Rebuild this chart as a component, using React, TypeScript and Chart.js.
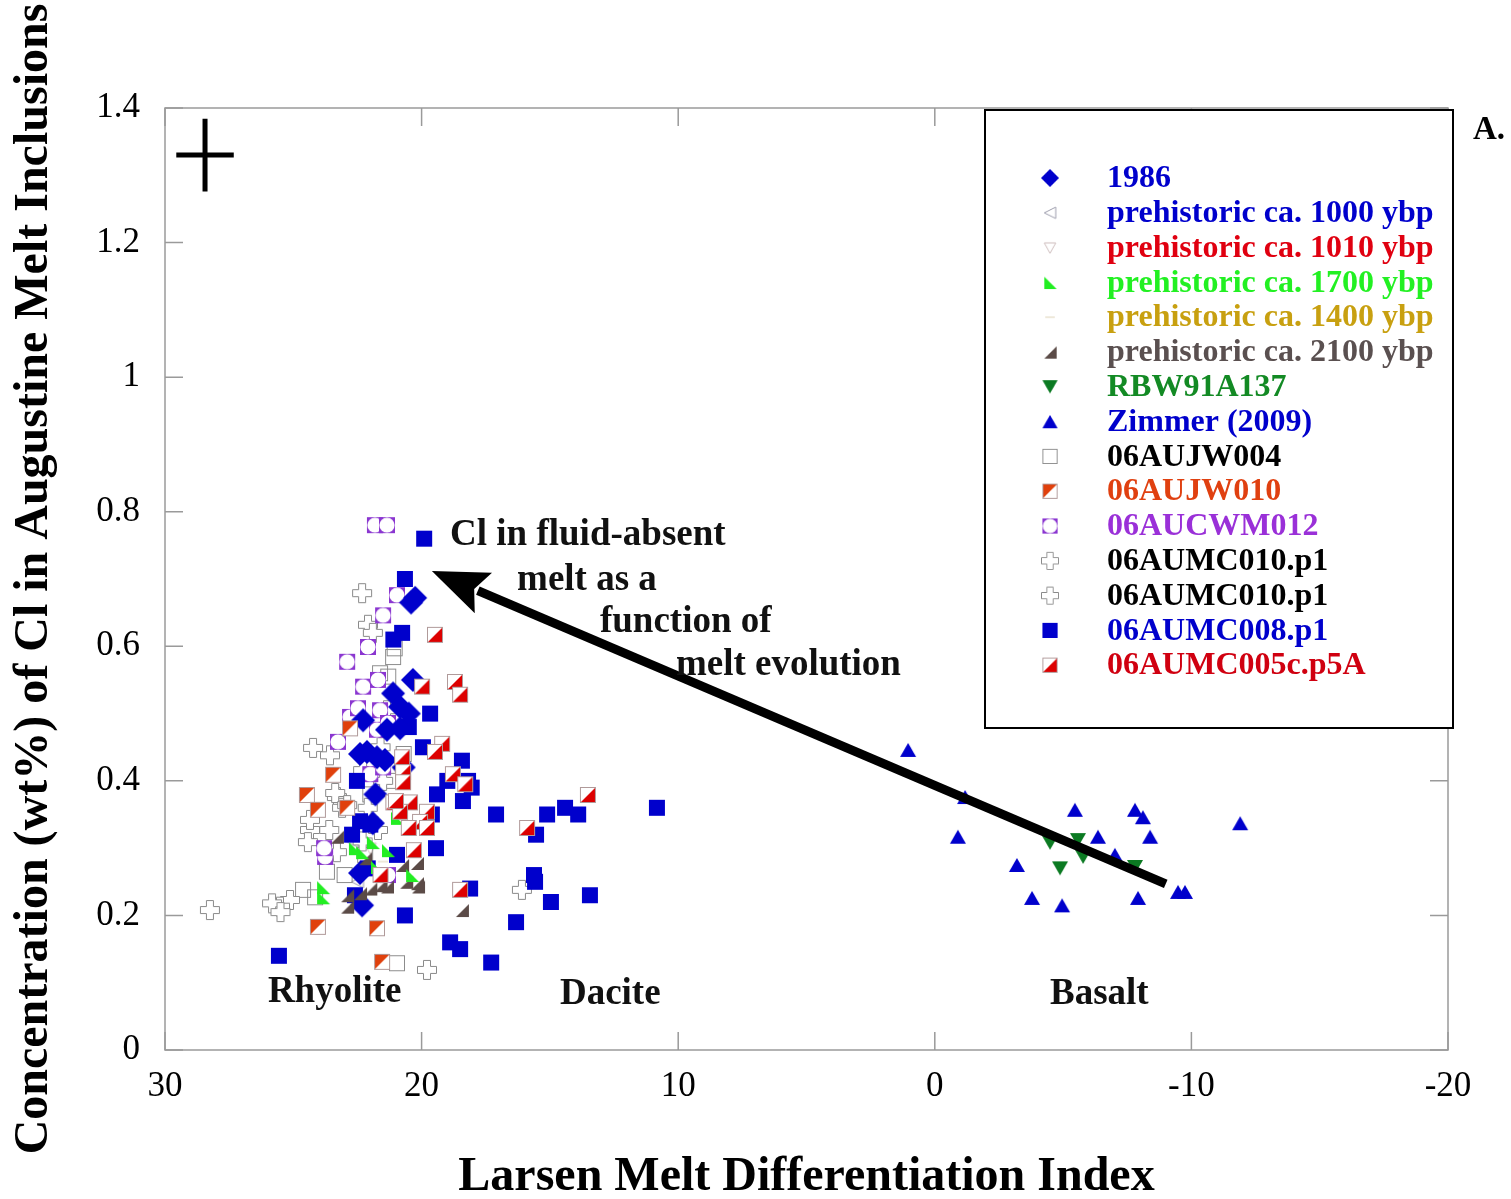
import React, { useEffect, useRef } from 'react';
import { Chart, registerables } from 'chart.js';

Chart.register(...registerables);

type Pt = [number, number];

// ---------------- axis ticks ----------------
const xTickValues = [30, 20, 10, 0, -10, -20];
const yTickValues = [0, 0.2, 0.4, 0.6, 0.8, 1, 1.2, 1.4];

// ---------------- series data (Larsen index, Cl wt%) ----------------
const d1986: Pt[] = [
  [20.41, 0.665], [20.25, 0.672], [20.34, 0.55], [21.11, 0.53], [20.84, 0.51], [22.28, 0.49],
  [21.35, 0.476], [20.84, 0.478], [22.13, 0.443], [21.74, 0.435], [21.43, 0.431], [22.4, 0.44],
  [21.9, 0.337], [22.4, 0.263], [22.32, 0.215], [20.7, 0.42], [20.5, 0.5], [21.8, 0.38],
];
const d1000: Pt[] = [[22.5, 0.25], [21.7, 0.385], [22.7, 0.31]];
const d1010: Pt[] = [[22.0, 0.3], [21.0, 0.42]];
const d1700: Pt[] = [
  [20.96, 0.345], [21.9, 0.309], [22.32, 0.294], [21.31, 0.297], [21.74, 0.272], [20.37, 0.26],
  [23.84, 0.242], [23.84, 0.227], [22.6, 0.3],
];
const d1400: Pt[] = [[22.0, 0.35], [21.5, 0.28]];
const d2100: Pt[] = [
  [22.9, 0.23], [22.9, 0.213], [21.35, 0.243], [20.14, 0.243], [20.76, 0.275], [22.4, 0.233],
  [23.3, 0.317], [22.0, 0.24], [20.6, 0.25], [21.6, 0.245], [20.18, 0.278], [20.18, 0.248],
  [18.43, 0.208], [22.2, 0.285],
];
const dRBW: Pt[] = [[-4.49, 0.308], [-5.58, 0.312], [-5.78, 0.287], [-4.88, 0.27], [-7.8, 0.272]];
const dZimmer: Pt[] = [
  [1.04, 0.446], [-1.18, 0.376], [-0.9, 0.317], [-3.2, 0.275], [-3.79, 0.226], [-4.96, 0.215],
  [-5.46, 0.357], [-6.36, 0.317], [-7.02, 0.29], [-7.8, 0.357], [-8.11, 0.346], [-8.39, 0.317],
  [-7.92, 0.226], [-9.48, 0.235], [-9.75, 0.235], [-11.9, 0.337],
];
const dJW004: Pt[] = [
  [21.11, 0.584], [21.05, 0.597], [21.62, 0.56], [21.3, 0.555], [24.62, 0.238], [24.15, 0.227],
  [20.96, 0.129], [23.69, 0.265], [23.0, 0.26], [22.2, 0.29], [22.0, 0.38], [21.3, 0.4], [20.7, 0.44],
];
const dJW010: Pt[] = [
  [22.79, 0.478], [23.45, 0.409], [24.47, 0.379], [24.04, 0.357], [24.04, 0.183], [21.74, 0.181],
  [21.54, 0.131], [22.9, 0.36],
];
const dCWM012: Pt[] = [
  [21.82, 0.78], [21.35, 0.78], [20.96, 0.676], [21.5, 0.646], [22.09, 0.599], [22.9, 0.577],
  [22.28, 0.54], [21.7, 0.55], [22.79, 0.495], [22.48, 0.508], [21.74, 0.476], [23.26, 0.458],
  [21.62, 0.505], [21.31, 0.486], [23.76, 0.287], [21.31, 0.26], [23.8, 0.3], [22.0, 0.41], [21.5, 0.42],
];
const dMC010a: Pt[] = [
  [22.32, 0.679], [22.09, 0.632], [21.9, 0.62], [21.35, 0.505], [24.23, 0.449], [23.57, 0.438],
  [22.28, 0.416], [23.37, 0.382], [22.9, 0.364], [22.1, 0.36], [24.35, 0.342], [21.6, 0.45], [21.5, 0.4],
];
const dMC010b: Pt[] = [
  [23.3, 0.376], [23.1, 0.36], [24.35, 0.327], [23.6, 0.327], [24.43, 0.309], [23.3, 0.294],
  [25.13, 0.223], [25.52, 0.213], [25.83, 0.218], [25.5, 0.205], [28.25, 0.208], [19.79, 0.119],
  [16.09, 0.238], [21.7, 0.327], [22.3, 0.31],
];
const dMC008: Pt[] = [
  [19.9, 0.76], [20.65, 0.7], [20.76, 0.62], [21.1, 0.61], [19.67, 0.5], [19.95, 0.45], [18.43, 0.43],
  [18.19, 0.4], [19.0, 0.4], [18.39, 0.37], [19.4, 0.38], [18.05, 0.39], [22.52, 0.4], [22.4, 0.34],
  [22.0, 0.335], [22.71, 0.32], [20.96, 0.29], [22.1, 0.27], [19.44, 0.3], [20.65, 0.2], [18.11, 0.24],
  [17.1, 0.35], [15.11, 0.35], [14.41, 0.36], [13.9, 0.35], [15.54, 0.32], [10.83, 0.36], [15.62, 0.26],
  [15.58, 0.25], [14.96, 0.22], [13.44, 0.23], [16.32, 0.19], [18.89, 0.16], [18.5, 0.15], [17.29, 0.13],
  [25.56, 0.14], [22.6, 0.23], [19.6, 0.35], [20.5, 0.48],
];
const dMC005: Pt[] = [
  [19.48, 0.617], [18.7, 0.547], [18.5, 0.528], [19.98, 0.54], [19.2, 0.455], [19.48, 0.443],
  [20.76, 0.435], [20.72, 0.413], [20.72, 0.398], [18.78, 0.41], [21.1, 0.368], [20.45, 0.368],
  [19.79, 0.354], [20.06, 0.339], [20.84, 0.354], [20.3, 0.297], [19.79, 0.33], [18.5, 0.238],
  [13.52, 0.379], [15.89, 0.33], [21.6, 0.26], [21.0, 0.37], [20.5, 0.33], [18.3, 0.395],
];

const seriesNames = [
  '1986', 'prehistoric ca. 1000 ybp', 'prehistoric ca. 1010 ybp', 'prehistoric ca. 1700 ybp',
  'prehistoric ca. 1400 ybp', 'prehistoric ca. 2100 ybp', 'RBW91A137', 'Zimmer (2009)', '06AUJW004',
  '06AUJW010', '06AUCWM012', '06AUMC010.p1', '06AUMC010.p1', '06AUMC008.p1', '06AUMC005c.p5A',
];
const seriesData: Pt[][] = [
  d1986, d1000, d1010, d1700, d1400, d2100, dRBW, dZimmer, dJW004, dJW010, dCWM012, dMC010a, dMC010b, dMC008, dMC005,
];
const seriesTextColors = [
  '#0000cc', '#0000cc', '#e00010', '#22f022', '#c8a010', '#5a5050', '#138a24', '#0000cc', '#000000',
  '#e04010', '#9a30d8', '#000000', '#000000', '#0000cc', '#d00010',
];
const seriesMarkers = [
  'diamond', 'triLeftOpen', 'triDownOpen', 'green1700', 'faint', 'brown2100', 'triDown', 'triUp',
  'openSquare', 'halfTL', 'purpleRing', 'cross', 'cross', 'square', 'halfBR',
];
// draw order: lower = on top
const seriesOrder = [6, 12, 12, 3, 13, 4, 2, 2, 11, 5, 8, 10, 10, 7, 1];

// annotation texts (data coordinates)
const annoTexts = [
  { t: 'Cl in fluid-absent', x: 18.89, y: 0.764 },
  { t: 'melt as a', x: 16.28, y: 0.698 },
  { t: 'function of', x: 13.05, y: 0.636 },
  { t: 'melt evolution', x: 10.09, y: 0.572 },
  { t: 'Rhyolite', x: 25.99, y: 0.086 },
  { t: 'Dacite', x: 14.61, y: 0.082 },
  { t: 'Basalt', x: -4.49, y: 0.082 },
];
const arrowFrom = { x: -9.0, y: 0.247 };
const arrowTo = { x: 19.6, y: 0.712 };
const errCross = { x: 28.44, y: 1.33, dx: 1.12, dy: 0.054 };

const SERIF = '"Liberation Serif", "Times New Roman", serif';

function poly(ctx: CanvasRenderingContext2D, pts: number[][]) {
  ctx.beginPath();
  ctx.moveTo(pts[0][0], pts[0][1]);
  for (let i = 1; i < pts.length; i++) ctx.lineTo(pts[i][0], pts[i][1]);
  ctx.closePath();
}

function makeMarker(kind: string): HTMLCanvasElement {
  const size = kind === 'diamond' ? 26 : kind === 'cross' ? 22 : 18;
  const c = document.createElement('canvas');
  c.width = size;
  c.height = size;
  const ctx = c.getContext('2d')!;
  ctx.lineWidth = 1;
  switch (kind) {
    case 'diamond':
      poly(ctx, [[13, 1], [25, 13], [13, 25], [1, 13]]);
      ctx.fillStyle = '#0000cc';
      ctx.fill();
      break;
    case 'square':
      ctx.fillStyle = '#0000cc';
      ctx.fillRect(1, 1, 16, 16);
      break;
    case 'triUp':
      poly(ctx, [[9, 2], [17, 16], [1, 16]]);
      ctx.fillStyle = '#0000cc';
      ctx.fill();
      break;
    case 'triDown':
      poly(ctx, [[1, 2], [17, 2], [9, 16]]);
      ctx.fillStyle = '#0b7a22';
      ctx.fill();
      break;
    case 'triLeftOpen':
      poly(ctx, [[3, 9], [15, 3], [15, 15]]);
      ctx.fillStyle = '#ffffff';
      ctx.fill();
      ctx.strokeStyle = '#9a9aaa';
      ctx.stroke();
      break;
    case 'triDownOpen':
      poly(ctx, [[3, 4], [15, 4], [9, 15]]);
      ctx.fillStyle = '#ffffff';
      ctx.fill();
      ctx.strokeStyle = '#cdbcbc';
      ctx.stroke();
      break;
    case 'green1700':
      poly(ctx, [[3, 3], [3, 16], [16, 16]]);
      ctx.fillStyle = '#22ee22';
      ctx.fill();
      break;
    case 'brown2100':
      poly(ctx, [[16, 3], [16, 16], [3, 16]]);
      ctx.fillStyle = '#5b4b47';
      ctx.fill();
      break;
    case 'faint':
      ctx.fillStyle = '#eee8da';
      ctx.fillRect(4, 8, 10, 2);
      break;
    case 'openSquare':
      ctx.strokeStyle = '#8c8c8c';
      ctx.strokeRect(1.5, 1.5, 15, 15);
      break;
    case 'halfTL':
      ctx.fillStyle = '#ffffff';
      ctx.fillRect(1, 1, 16, 16);
      poly(ctx, [[1, 1], [17, 1], [1, 17]]);
      ctx.fillStyle = '#e0400c';
      ctx.fill();
      ctx.strokeStyle = '#b09a9a';
      ctx.strokeRect(1.5, 1.5, 15, 15);
      break;
    case 'halfBR':
      ctx.fillStyle = '#ffffff';
      ctx.fillRect(1, 1, 16, 16);
      poly(ctx, [[17, 1], [17, 17], [1, 17]]);
      ctx.fillStyle = '#dd0000';
      ctx.fill();
      ctx.strokeStyle = '#b09a9a';
      ctx.strokeRect(1.5, 1.5, 15, 15);
      break;
    case 'purpleRing':
      ctx.fillStyle = '#8a35d0';
      ctx.fillRect(1, 1, 16, 16);
      ctx.beginPath();
      ctx.arc(9, 9, 7.6, 0, Math.PI * 2);
      ctx.fillStyle = '#ffffff';
      ctx.fill();
      break;
    case 'cross':
      poly(ctx, [[7.5, 1.5], [14.5, 1.5], [14.5, 7.5], [20.5, 7.5], [20.5, 14.5], [14.5, 14.5], [14.5, 20.5],
        [7.5, 20.5], [7.5, 14.5], [1.5, 14.5], [1.5, 7.5], [7.5, 7.5]]);
      ctx.fillStyle = '#ffffff';
      ctx.fill();
      ctx.strokeStyle = '#8a8a8a';
      ctx.stroke();
      break;
  }
  return c;
}

export default function App() {
  const ref = useRef<HTMLCanvasElement | null>(null);

  useEffect(() => {
    if (!ref.current) return;
    const markers = seriesMarkers.map((m) => makeMarker(m));

    const decor = {
      id: 'decor',
      beforeDatasetsDraw(chart: any) {
        const { ctx, chartArea: ca, scales } = chart;
        const xs = scales.x, ys = scales.y;
        ctx.save();
        ctx.strokeStyle = '#9a9a9a';
        ctx.lineWidth = 1.5;
        ctx.strokeRect(ca.left, ca.top, ca.right - ca.left, ca.bottom - ca.top);
        const tl = 18;
        ctx.beginPath();
        for (const v of yTickValues) {
          const py = ys.getPixelForValue(v);
          ctx.moveTo(ca.left, py); ctx.lineTo(ca.left + tl, py);
          ctx.moveTo(ca.right, py); ctx.lineTo(ca.right - tl, py);
        }
        for (const v of xTickValues) {
          const px = xs.getPixelForValue(v);
          ctx.moveTo(px, ca.top); ctx.lineTo(px, ca.top + tl);
          ctx.moveTo(px, ca.bottom); ctx.lineTo(px, ca.bottom - tl);
        }
        ctx.stroke();
        ctx.restore();
      },
      afterDatasetsDraw(chart: any) {
        const { ctx, chartArea: ca, scales } = chart;
        const xs = scales.x, ys = scales.y;
        ctx.save();
        // error cross
        ctx.strokeStyle = '#000';
        ctx.lineWidth = 5;
        ctx.beginPath();
        ctx.moveTo(xs.getPixelForValue(errCross.x + errCross.dx), ys.getPixelForValue(errCross.y));
        ctx.lineTo(xs.getPixelForValue(errCross.x - errCross.dx), ys.getPixelForValue(errCross.y));
        ctx.moveTo(xs.getPixelForValue(errCross.x), ys.getPixelForValue(errCross.y + errCross.dy));
        ctx.lineTo(xs.getPixelForValue(errCross.x), ys.getPixelForValue(errCross.y - errCross.dy));
        ctx.stroke();
        // arrow
        const x0 = xs.getPixelForValue(arrowFrom.x), y0 = ys.getPixelForValue(arrowFrom.y);
        const x1 = xs.getPixelForValue(arrowTo.x), y1 = ys.getPixelForValue(arrowTo.y);
        const dx = x1 - x0, dy = y1 - y0;
        const len = Math.hypot(dx, dy);
        const ux = dx / len, uy = dy / len;
        const hl = 56, hw = 22;
        const bx = x1 - ux * hl, by = y1 - uy * hl;
        ctx.lineWidth = 9;
        ctx.lineCap = 'butt';
        ctx.beginPath();
        ctx.moveTo(x0, y0);
        ctx.lineTo(bx + ux * 6, by + uy * 6);
        ctx.stroke();
        ctx.fillStyle = '#000';
        ctx.beginPath();
        ctx.moveTo(x1, y1);
        ctx.lineTo(bx - uy * hw, by + ux * hw);
        ctx.lineTo(bx + ux * 10, by + uy * 10);
        ctx.lineTo(bx + uy * hw, by - ux * hw);
        ctx.closePath();
        ctx.fill();
        // texts
        ctx.font = `bold 37px ${SERIF}`;
        ctx.textBaseline = 'middle';
        ctx.textAlign = 'left';
        ctx.fillStyle = '#111';
        for (const a of annoTexts) {
          ctx.fillText(a.t, xs.getPixelForValue(a.x), ys.getPixelForValue(a.y));
        }
        // legend box
        const lx = ca.right - 463, ly = ca.top + 2, lw = 468, lh = 618;
        ctx.fillStyle = '#fff';
        ctx.fillRect(lx, ly, lw, lh);
        ctx.strokeStyle = '#000';
        ctx.lineWidth = 2;
        ctx.strokeRect(lx, ly, lw, lh);
        ctx.font = `bold 32px ${SERIF}`;
        seriesNames.forEach((name, i) => {
          const cy = ly + 68 + i * 34.8;
          const m = markers[i];
          const sc = seriesMarkers[i] === 'diamond' ? 0.75 : seriesMarkers[i] === 'cross' ? 0.9 : 0.95;
          const w = m.width * sc, h = m.height * sc;
          ctx.drawImage(m, lx + 65 - w / 2, cy - h / 2, w, h);
          ctx.fillStyle = seriesTextColors[i];
          ctx.fillText(name, lx + 122, cy + 1);
        });
        // panel label
        ctx.fillStyle = '#000';
        ctx.font = `bold 33px ${SERIF}`;
        ctx.fillText('A.', ca.right + 25, ca.top + 22);
        ctx.restore();
      },
    };

    const fmt = (v: any) => String(Number(Number(v).toFixed(1)));

    const chart = new Chart(ref.current, {
      type: 'scatter',
      data: {
        datasets: seriesNames.map((name, i) => ({
          label: name,
          data: seriesData[i].map(([x, y]) => ({ x, y })),
          pointStyle: markers[i] as any,
          pointRadius: 9,
          order: seriesOrder[i],
          showLine: false,
        })),
      },
      options: {
        animation: false,
        responsive: false,
        events: [],
        layout: { padding: { left: 0, top: 108, right: 63, bottom: 0 } },
        plugins: { legend: { display: false }, tooltip: { enabled: false } },
        scales: {
          x: {
            type: 'linear',
            reverse: true,
            min: xTickValues[xTickValues.length - 1],
            max: xTickValues[0],
            afterFit: (s: any) => { s.height = 149; },
            ticks: {
              stepSize: 10,
              color: '#000',
              padding: 16,
              font: { family: SERIF, size: 35 },
              callback: fmt,
            },
            grid: { display: false, drawTicks: false },
            border: { display: false },
            title: {
              display: true,
              text: 'Larsen Melt Differentiation Index',
              color: '#000',
              font: { family: SERIF, size: 48, weight: 'bold', lineHeight: 0.875 },
              padding: { top: 0, bottom: 0 },
            },
          },
          y: {
            type: 'linear',
            min: yTickValues[0],
            max: yTickValues[yTickValues.length - 1],
            afterFit: (s: any) => { s.width = 165; },
            ticks: {
              stepSize: 0.2,
              color: '#000',
              padding: 25,
              font: { family: SERIF, size: 35 },
              callback: fmt,
            },
            grid: { display: false, drawTicks: false },
            border: { display: false },
            title: {
              display: true,
              text: 'Concentration (wt%) of Cl in Augustine Melt Inclusions',
              color: '#000',
              font: { family: SERIF, size: 48, weight: 'bold', lineHeight: 0.875 },
              padding: { top: 14, bottom: 0 },
            },
          },
        },
      },
      plugins: [decor],
    } as any);
    return () => chart.destroy();
  }, []);

  return (
    <div style={{ position: 'fixed', left: 0, top: 0, width: 1511, height: 1199, background: '#fff' }}>
      <canvas ref={ref} width={1511} height={1199} style={{ display: 'block', width: 1511, height: 1199 }} />
    </div>
  );
}
